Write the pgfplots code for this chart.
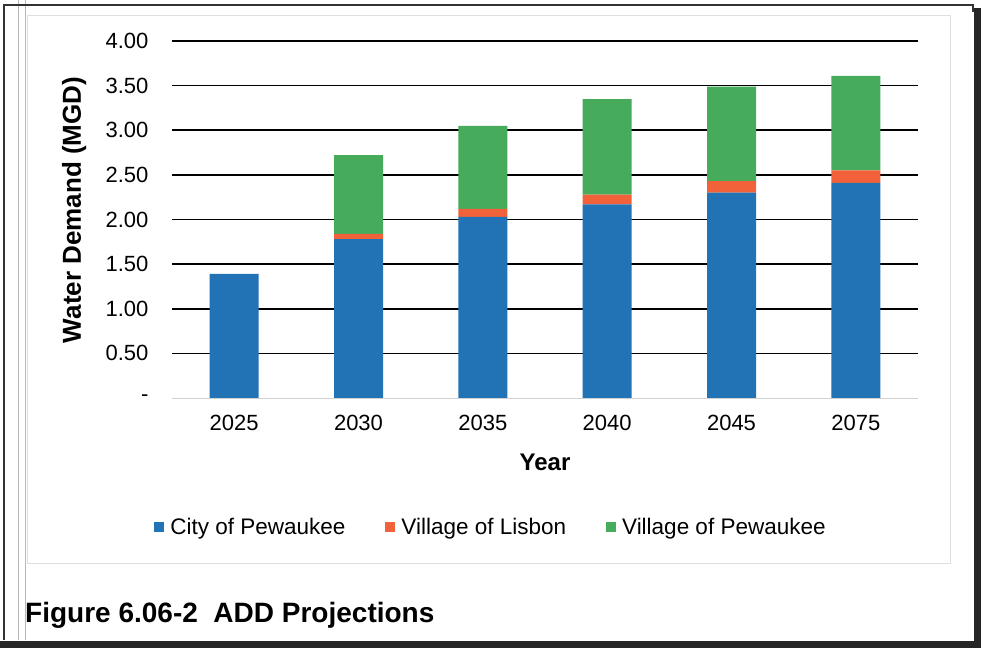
\documentclass[border=0pt]{standalone}
\usepackage{fontspec}
\setmainfont{Liberation Sans}
\usepackage{pgfplots}
\pgfplotsset{compat=1.18}
\definecolor{cblue}{RGB}{33,115,182}
\definecolor{corange}{RGB}{242,98,58}
\definecolor{cgreen}{RGB}{70,172,92}
\begin{document}
\begin{tikzpicture}[x=1pt,y=1pt]
\useasboundingbox (0,0) rectangle (981,648);
\fill[white] (0,0) rectangle (981,648);
% frame (scan edges)
\draw[gray!25, line width=0.8pt] (27,85) rectangle (950,633);
\draw[gray!55, line width=0.8pt] (18,8) -- (18,648);
\draw[gray!55, line width=0.8pt] (25,8) -- (25,648);
\draw[black!80, line width=1.2pt] (4,8) -- (4,643) -- (973,643) -- (973,636);
\fill[black!85] (974,0) rectangle (981,640);
\fill[black!85] (0,0) rectangle (981,7);
\begin{axis}[
  at={(172pt,250pt)}, anchor=south west,
  scale only axis, width=746pt, height=357pt,
  ybar stacked, bar width=49pt,
  xmin=-0.5, xmax=5.5, ymin=0, ymax=4,
  axis line style={draw=none},
  tick style={draw=none}, major tick length=0pt,
  xtick={0,1,2,3,4,5},
  xticklabels={2025,2030,2035,2040,2045,2075},
  ytick={0.5,1,1.5,2,2.5,3,3.5,4},
  yticklabels={0.50,1.00,1.50,2.00,2.50,3.00,3.50,4.00},
  extra y ticks={0}, extra y tick labels={-},
  extra y tick style={grid=none},
  ymajorgrids, major grid style={black, line width=1.6pt},
  ticklabel style={font=\fontsize{22}{26}\selectfont},
  yticklabel style={xshift=-20pt},
  xticklabel style={yshift=-14pt},
  xlabel={Year}, ylabel={Water Demand (MGD)},
  xlabel style={font=\bfseries\fontsize{24}{28}\selectfont, at={(axis description cs:0.5,-0.179)}, anchor=center},
  ylabel style={font=\bfseries\fontsize{26}{30}\selectfont, at={(axis description cs:-0.131,0.527)}, anchor=center},
  legend style={at={(axis description cs:0.4276,-0.361)}, anchor=center, draw=none, fill=none,
    font=\fontsize{22.5}{26}\selectfont, legend columns=3,
    /tikz/every even column/.append style={column sep=38pt}},
  legend image code/.code={\fill[#1] (0pt,-5pt) rectangle (10pt,5pt); \path (14pt,0pt);},
]
\draw[gray!35, line width=0.8pt] (axis cs:-0.5,0) -- (axis cs:5.5,0);
\addplot[fill=cblue, draw=none] coordinates {(0,1.39) (1,1.78) (2,2.03) (3,2.17) (4,2.30) (5,2.41)};
\addplot[fill=corange, draw=none] coordinates {(0,0) (1,0.06) (2,0.09) (3,0.11) (4,0.13) (5,0.14)};
\addplot[fill=cgreen, draw=none] coordinates {(0,0) (1,0.88) (2,0.93) (3,1.07) (4,1.06) (5,1.06)};
\legend{City of Pewaukee, Village of Lisbon, Village of Pewaukee}
\end{axis}
\node[anchor=base west, font=\bfseries\fontsize{28}{32}\selectfont, inner sep=0pt] at (25,26) {Figure 6.06-2\ \ ADD Projections};
\end{tikzpicture}
\end{document}
